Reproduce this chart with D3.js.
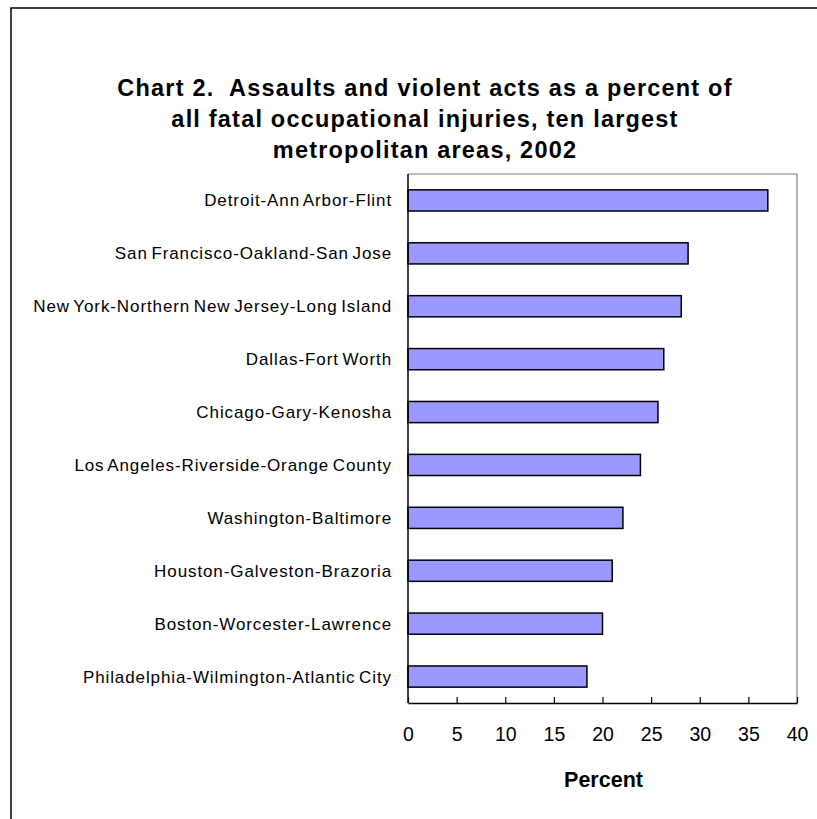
<!DOCTYPE html>
<html>
<head>
<meta charset="utf-8">
<script src="https://cdn.jsdelivr.net/npm/d3@7"></script>
<style>
  body { margin: 0; background: #fff; }
  svg { display: block; }
</style>
</head>
<body>
<svg id="chart" width="817" height="819"></svg>
<script>
const categories = [
  "Detroit-Ann Arbor-Flint",
  "San Francisco-Oakland-San Jose",
  "New York-Northern New Jersey-Long Island",
  "Dallas-Fort Worth",
  "Chicago-Gary-Kenosha",
  "Los Angeles-Riverside-Orange County",
  "Washington-Baltimore",
  "Houston-Galveston-Brazoria",
  "Boston-Worcester-Lawrence",
  "Philadelphia-Wilmington-Atlantic City"
];
const values = [37.0, 28.8, 28.1, 26.3, 25.7, 23.9, 22.1, 21.0, 20.0, 18.4];
const xTicks = [0, 5, 10, 15, 20, 25, 30, 35, 40];
const titleLines = [
  "Chart 2.  Assaults and violent acts as a percent of",
  "all fatal occupational injuries, ten largest",
  "metropolitan areas, 2002"
];
const xTitle = "Percent";

const svg = d3.select("#chart");
const font = "'Liberation Sans', Arial, Helvetica, sans-serif";

// outer frame
svg.append("rect")
  .attr("x", 11).attr("y", 8).attr("width", 830).attr("height", 840)
  .attr("fill", "none").attr("stroke", "#000").attr("stroke-width", 1.5);

const plot = { left: 408, right: 797, top: 174, bottom: 703 };

const x = d3.scaleLinear().domain([0, 40]).range([plot.left, plot.right]);
const y = d3.scaleBand().domain(categories).range([plot.top, plot.bottom]).paddingInner(0.6).paddingOuter(0.3);

// title
svg.append("g").selectAll("text").data(titleLines).join("text")
  .attr("x", 425).attr("y", (d, i) => 96 + i * 31)
  .attr("text-anchor", "middle")
  .attr("font-family", font).attr("font-weight", "bold").attr("font-size", 23.5)
  .attr("letter-spacing", "1.2px")
  .style("white-space", "pre")
  .attr("fill", "#000")
  .text(d => d);

// plot border (top & right gray)
svg.append("path")
  .attr("d", `M${plot.left},${plot.top}H${plot.right}V${plot.bottom}`)
  .attr("fill", "none").attr("stroke", "#808080").attr("stroke-width", 1.2);

// bars
svg.append("g").selectAll("rect").data(values).join("rect")
  .attr("x", x(0))
  .attr("y", (d, i) => y(categories[i]))
  .attr("width", d => x(d) - x(0))
  .attr("height", y.bandwidth())
  .attr("fill", "#9999FF")
  .attr("stroke", "#000").attr("stroke-width", 1.5);

// left axis line
svg.append("line")
  .attr("x1", plot.left).attr("x2", plot.left)
  .attr("y1", plot.top).attr("y2", plot.bottom)
  .attr("stroke", "#000").attr("stroke-width", 1.5);

// category labels
svg.append("g").selectAll("text").data(categories).join("text")
  .attr("x", 392)
  .attr("y", d => y(d) + y.bandwidth() / 2)
  .attr("dy", "0.35em")
  .attr("text-anchor", "end")
  .attr("font-family", font).attr("font-size", 17)
  .attr("letter-spacing", "0.9px").attr("word-spacing", "-2px")
  .attr("fill", "#000")
  .text(d => d);

// x axis
const xAxis = d3.axisBottom(x).tickValues(xTicks).tickSizeInner(-6).tickSizeOuter(0).tickPadding(24);
const gx = svg.append("g").attr("transform", `translate(0,${plot.bottom})`).call(xAxis);
gx.select(".domain").attr("stroke", "#000").attr("stroke-width", 1.5);
gx.selectAll(".tick line").attr("stroke", "#000").attr("stroke-width", 1.2);
gx.selectAll(".tick text")
  .attr("font-family", font).attr("font-size", 19.5).attr("fill", "#000");

// x title
svg.append("text")
  .attr("x", (plot.left + plot.right) / 2 + 1)
  .attr("y", 787)
  .attr("text-anchor", "middle")
  .attr("font-family", font).attr("font-weight", "bold").attr("font-size", 21.5)
  .attr("fill", "#000")
  .text(xTitle);
</script>
</body>
</html>
